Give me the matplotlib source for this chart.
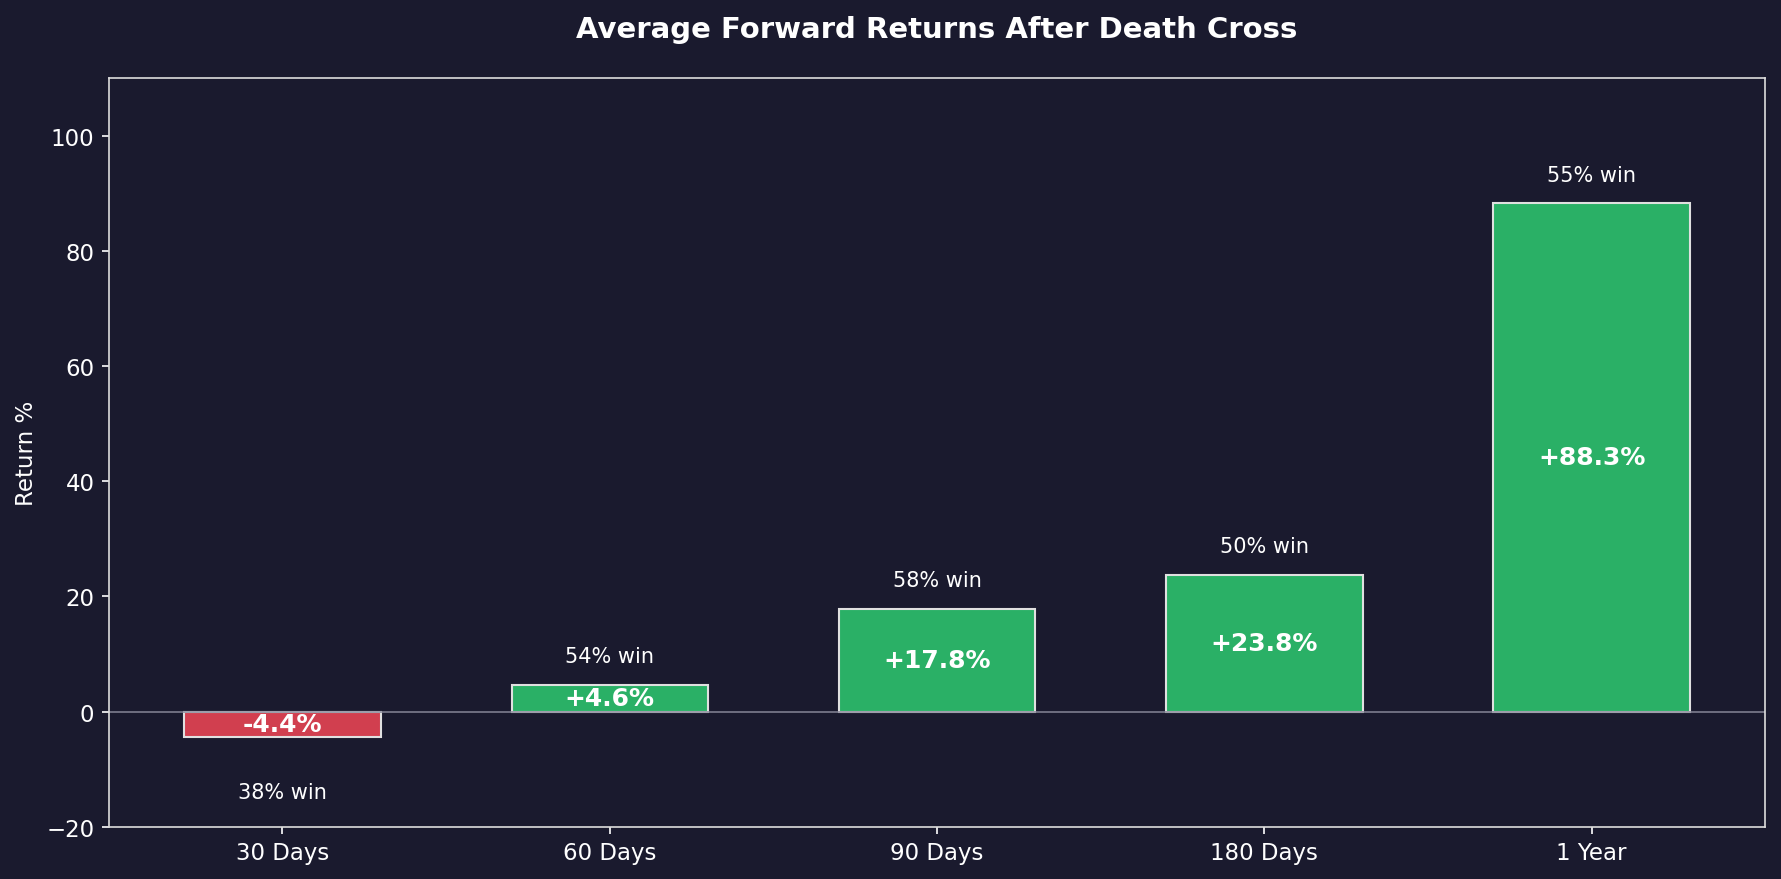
import matplotlib
matplotlib.use("Agg")
import matplotlib.pyplot as plt

categories = ["30 Days", "60 Days", "90 Days", "180 Days", "1 Year"]
avg_returns = [-4.4, 4.6, 17.8, 23.8, 88.3]
win_rates = [38, 54, 58, 50, 55]

BG = "#1a1a2e"
GREEN = "#2ab066"
RED = "#d13f4f"

fig = plt.figure(figsize=(1781/150, 880/150), dpi=150, facecolor=BG)
ax = fig.add_axes([0.0612, 0.0594, 0.9299, 0.8503])
ax.set_facecolor(BG)

colors = [GREEN if v >= 0 else RED for v in avg_returns]
x = range(len(categories))
bars = ax.bar(x, avg_returns, width=0.6, color=colors, edgecolor="#e0e0e0", linewidth=1.0)

ax.axhline(0, color="#888899", linewidth=0.9, alpha=0.8)

for i, (v, w) in enumerate(zip(avg_returns, win_rates)):
    ax.text(i, v / 2, f"{v:+.1f}%", ha="center", va="center", color="white",
            fontsize=12, fontweight="bold")
    ypos = v + 5 if v >= 0 else v - 9.6
    ax.text(i, ypos, f"{w}% win", ha="center", va="center", color="white", fontsize=10)

ax.set_ylim(-20, 110)
ax.set_xticks(list(x))
ax.set_xticklabels(categories)
ax.tick_params(colors="white", labelsize=11)
for s in ax.spines.values():
    s.set_color("#dddddd")
ax.set_ylabel("Return %", color="white", fontsize=11)
ax.set_title("Average Forward Returns After Death Cross", color="white",
             fontsize=14, fontweight="bold", pad=20)

fig.savefig("out.png", dpi=150, facecolor=BG)
